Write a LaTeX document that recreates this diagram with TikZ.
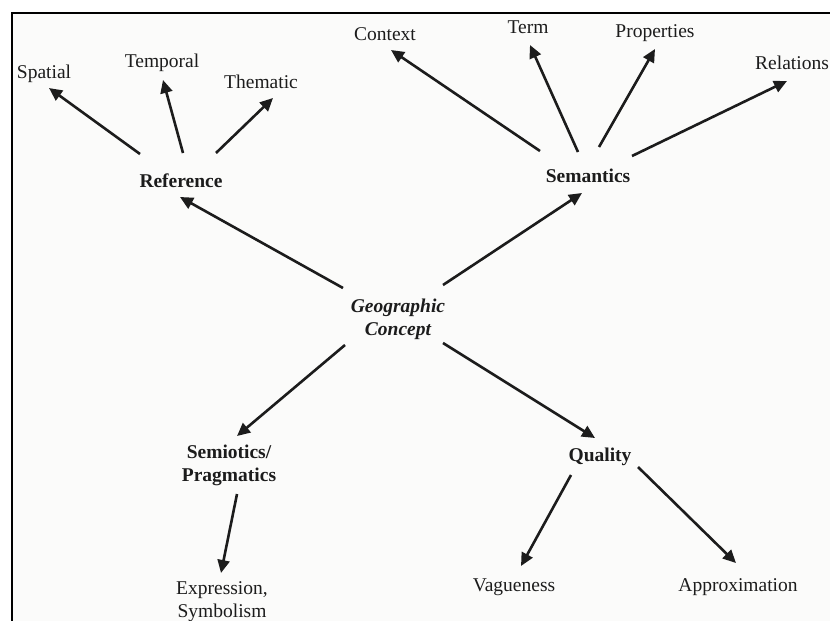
\documentclass[tikz,border=0pt]{standalone}
\usepackage{fontspec}
\setmainfont{Liberation Serif}
\usetikzlibrary{arrows.meta,calc}
\definecolor{ink}{RGB}{28,28,28}
\definecolor{paper}{RGB}{251,251,250}
\tikzset{
  lbl/.style={font=\fontsize{19.5}{23}\selectfont, text=ink, inner sep=0pt, text height=0.98em, text depth=0.2em},
  multi/.style={font=\fontsize{19.5}{23}\selectfont, text=ink, inner sep=0pt, align=center},
  hub/.style={lbl, font=\fontsize{19.5}{23}\selectfont\bfseries},
  hubm/.style={multi, font=\fontsize{19.5}{23}\selectfont\bfseries},
  core/.style={multi, font=\fontsize{19.5}{23}\selectfont\bfseries\itshape},
  arr/.style={draw=ink, line width=2.6pt, -{Triangle[length=13pt,width=12pt]}},
  frame/.style={draw=black, line width=2pt}
}
\begin{document}
\begin{tikzpicture}[x=1pt,y=-1pt]
\useasboundingbox (0,0) rectangle (830,621);
\fill[white] (0,0) rectangle (830,621);
\fill[paper] (12,13) rectangle (850,640);
\draw[frame] (12,650) -- (12,13) -- (850,13);

% nodes
\node[core] (geo) at (398,319) {Geographic\\Concept};
\node[hub] (ref) at (181,184) {Reference};
\node[hub] (sem) at (588,179) {Semantics};
\node[hubm] (semio) at (229,465) {Semiotics/\\Pragmatics};
\node[hub] (qual) at (600,458) {Quality};

\node[lbl] (spatial) at (44,75) {Spatial};
\node[lbl] (temporal) at (162,64) {Temporal};
\node[lbl] (thematic) at (261,85) {Thematic};
\node[lbl] (context) at (385,37) {Context};
\node[lbl] (term) at (528,30) {Term};
\node[lbl] (props) at (655,34) {Properties};
\node[lbl] (rel) at (792,66) {Relations};
\node[multi] (expr) at (222,602) {Expression,\\Symbolism};
\node[lbl] (vague) at (514,588) {Vagueness};
\node[lbl] (approx) at (738,588) {Approximation};

% connectors
\draw[arr] ($(ref)+(-41,-30)$) -- ($(spatial)+(5,13)$);
\draw[arr] ($(ref)+(2,-31)$) -- ($(temporal)+(1,16)$);
\draw[arr] ($(ref)+(35,-31)$) -- ($(thematic)+(12,13)$);

\draw[arr] ($(sem)+(-48,-28)$) -- ($(context)+(6,13)$);
\draw[arr] ($(sem)+(-10,-27)$) -- ($(term)+(2,15)$);
\draw[arr] ($(sem)+(11,-32)$) -- ($(props)+(0,15)$);
\draw[arr] ($(sem)+(44,-23)$) -- ($(rel)+(-5,15)$);

\draw[arr] ($(geo)+(-55,-31)$) -- ($(ref)+(-1,13)$);
\draw[arr] ($(geo)+(45,-34)$) -- ($(sem)+(-6,14)$);
\draw[arr] ($(geo)+(-53,26)$) -- ($(semio)+(8,-29)$);
\draw[arr] ($(geo)+(45,24)$) -- ($(qual)+(-5,-20)$);

\draw[arr] ($(semio)+(8,29)$) -- ($(expr)+(-1,-29)$);
\draw[arr] ($(qual)+(-29,17)$) -- ($(vague)+(7,-22)$);
\draw[arr] ($(qual)+(38,9)$) -- ($(approx)+(-2,-25)$);
\end{tikzpicture}
\end{document}
